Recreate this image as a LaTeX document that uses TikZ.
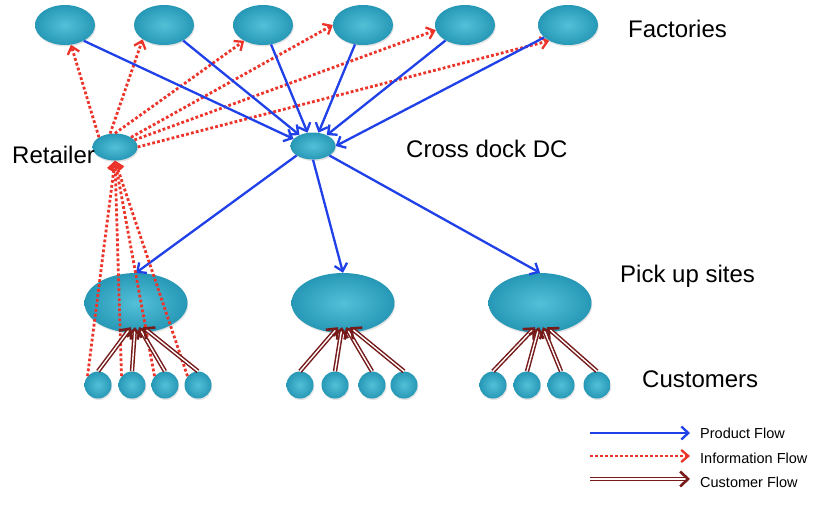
\documentclass[tikz,border=0pt]{standalone}
\usepackage{fontspec}
\setmainfont{Liberation Sans}
\usetikzlibrary{shapes.geometric,arrows.meta,shadows}
\definecolor{ballin}{RGB}{84,192,216}
\definecolor{ballout}{RGB}{38,152,182}
\definecolor{pblue}{RGB}{32,64,232}
\definecolor{ired}{RGB}{236,52,42}
\definecolor{cred}{RGB}{118,26,26}
\begin{document}
\begin{tikzpicture}[x=1pt,y=-1pt,
  ball/.style={ellipse, inner sep=0pt, draw=none, inner color=ballin, outer color=ballout,
    drop shadow={shadow xshift=0.8pt, shadow yshift=-1.5pt, opacity=0.22}},
  fact/.style={ball, minimum width=60pt, minimum height=40pt},
  hub/.style={ball, minimum width=45pt, minimum height=27pt},
  site/.style={ball, minimum width=103pt, minimum height=60pt},
  cust/.style={ball, minimum width=27pt, minimum height=27pt},
  prod/.style={draw=pblue, line width=2.3pt, -{Straight Barb[length=7pt,width=13pt,line width=2.3pt]}},
  info/.style={draw=ired, line width=2.8pt, dash pattern=on 2.8pt off 2.2pt, -{Straight Barb[length=7pt,width=12pt,line width=2.3pt]}},
  cflow/.style={draw=cred, line width=1.5pt, double=white, double distance=1.4pt, -{Straight Barb[length=8pt,width=15pt,line width=2.6pt]}},
  big/.style={font=\fontsize{24}{28}\selectfont, anchor=base west, inner sep=0pt},
  small/.style={font=\fontsize{14.5}{17}\selectfont, anchor=base west, inner sep=0pt}
]
\useasboundingbox[fill=white] (0,0) rectangle (820,506);

% factories
\node[fact] (f1) at (65,25) {};
\node[fact] (f2) at (164,25) {};
\node[fact] (f3) at (263,25) {};
\node[fact] (f4) at (363,25) {};
\node[fact] (f5) at (465,25) {};
\node[fact] (f6) at (568,25) {};
% retailer and DC
\node[hub] (ret) at (115,147) {};
\node[hub] (dc) at (313,146) {};
% pick-up sites
\node[site] (s1) at (136,303) {};
\node[site] (s2) at (343,303) {};
\node[site] (s3) at (540,303) {};
% customers
\node[cust] (c11) at (98,385) {};
\node[cust] (c12) at (132,385) {};
\node[cust] (c13) at (165,385) {};
\node[cust] (c14) at (198,385) {};
\node[cust] (c21) at (300,385) {};
\node[cust] (c22) at (335,385) {};
\node[cust] (c23) at (372,385) {};
\node[cust] (c24) at (404,385) {};
\node[cust] (c31) at (493,385) {};
\node[cust] (c32) at (527,385) {};
\node[cust] (c33) at (561,385) {};
\node[cust] (c34) at (597,385) {};

% labels
\node[big] (lf) at (628,37) {Factories};
\node[big] (ldc) at (406,157) {Cross dock DC};
\node[big] (lr) at (12,163) {Retailer};
\node[big] (lp) at (620,282) {Pick up sites};
\node[big] (lc) at (642,387) {Customers};

% information flow: retailer -> factories
\draw[info] (ret.north west) -- (f1);
\draw[info] (ret.110) -- (f2.south west);
\draw[info] (ret.north) -- (f3.220);
\draw[info] (ret.north east) -- (f4.west);
\draw[info] (ret.20) -- (f5.190);
\draw[info] (ret.east) -- (f6.220);

% product flow: factories -> DC
\draw[prod] (f1.-40) -- (dc.160);
\draw[prod] (f2) -- (dc);
\draw[prod] (f3) -- (dc);
\draw[prod] (f4) -- (dc);
\draw[prod] (f5) -- (dc);
\draw[prod] (f6) -- (dc.east);
% product flow: DC -> sites
\draw[prod] (dc.210) -- (s1.north);
\draw[prod] (dc.south) -- (s2.north);
\draw[prod] (dc.-30) -- (s3.north);

% information flow: customers -> retailer
\draw[info] (c11.140) -- (ret.south);
\draw[info] (c12.140) -- (ret.south);
\draw[info] (c13.140) -- (ret.south);
\draw[info] (c14.140) -- (ret.south);

% customer flow
\foreach \s/\a/\b/\c/\d in {s1/c11/c12/c13/c14, s2/c21/c22/c23/c24, s3/c31/c32/c33/c34}{
  \draw[cflow] (\a.north) -- ([xshift=-5pt,yshift=6pt]\s.south);
  \draw[cflow] (\b.north) -- ([xshift=-1pt,yshift=6pt]\s.south);
  \draw[cflow] (\c.north) -- ([xshift=3pt,yshift=6pt]\s.south);
  \draw[cflow] (\d.north) -- ([xshift=7pt,yshift=6pt]\s.south);
}

% legend
\coordinate (lp1) at (590,433); \coordinate (lp2) at (690,433);
\coordinate (li1) at (590,456); \coordinate (li2) at (690,456);
\coordinate (lc1) at (590,479); \coordinate (lc2) at (690,479);
\draw[prod] (lp1) -- (lp2);
\draw[info] (li1) -- (li2);
\draw[cflow] (lc1) -- (lc2);
\node[small] (tp) at (700,438) {Product Flow};
\node[small] (ti) at (700,463) {Information Flow};
\node[small] (tc) at (700,487) {Customer Flow};
\end{tikzpicture}
\end{document}
